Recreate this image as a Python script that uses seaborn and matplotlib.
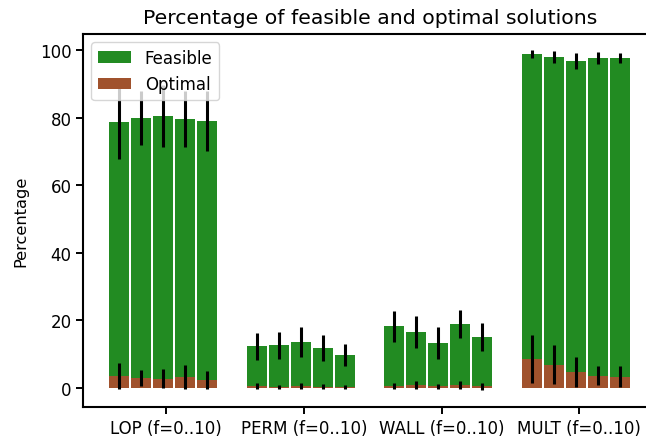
import numpy as np
import pandas as pd
import matplotlib
matplotlib.use('Agg')
import matplotlib.pyplot as plt
import seaborn as sns

# values (5 settings of f per problem)
problems = ['LOP', 'PERM', 'WALL', 'MULT']
tick_labels = [p + ' (f=0..10)' for p in problems]

feasible = [[78.7, 79.9, 80.5, 79.6, 79.0],
            [12.4, 12.7, 13.6, 11.8, 9.8],
            [18.3, 16.6, 13.3, 18.9, 15.1],
            [98.8, 97.9, 96.7, 97.6, 97.6]]
feasible_err = [[10.9, 7.9, 9.1, 8.2, 8.8],
                [4.0, 4.0, 4.4, 3.9, 3.3],
                [4.6, 4.8, 4.7, 4.2, 4.2],
                [1.2, 1.7, 2.4, 1.8, 1.6]]
optimal = [[3.5, 3.0, 2.8, 3.3, 2.4],
           [0.5, 0.4, 0.5, 0.4, 0.4],
           [0.5, 0.9, 0.5, 0.9, 0.5],
           [8.6, 6.9, 4.7, 3.6, 3.3]]
optimal_err = [[3.8, 2.3, 2.8, 3.6, 2.7],
               [0.9, 0.6, 0.9, 0.8, 0.6],
               [0.9, 1.2, 0.8, 1.2, 1.0],
               [7.1, 5.8, 4.5, 2.8, 3.1]]

sns.set_style('ticks', {'text.color': 'black', 'axes.labelcolor': 'black',
                        'xtick.color': 'black', 'ytick.color': 'black',
                        'axes.edgecolor': 'black'})
plt.rcParams['font.family'] = ['DejaVu Sans']

# bar positions: groups 1.25 apart, bars 0.2 apart
n = len(feasible[0])
rows = []
for g, p in enumerate(problems):
    for j in range(n):
        rows.append({'x': g * 1.25 + j * 0.2, 'problem': p,
                     'feasible': feasible[g][j], 'feasible_err': feasible_err[g][j],
                     'optimal': optimal[g][j], 'optimal_err': optimal_err[g][j]})
df = pd.DataFrame(rows)

fig = plt.figure(figsize=(6.46, 4.39), dpi=100)
ax = fig.add_axes([83 / 646, 31 / 439, 574 / 646, 373 / 439])

sns.barplot(data=df, x='x', y='feasible', native_scale=True, width=0.9,
            color='forestgreen', saturation=1, errorbar=None, label='Feasible',
            linewidth=0, ax=ax)
ax.errorbar(df['x'], df['feasible'], yerr=df['feasible_err'], fmt='none',
            ecolor='black', elinewidth=2.2, capsize=0)
sns.barplot(data=df, x='x', y='optimal', native_scale=True, width=0.9,
            color='sienna', saturation=1, errorbar=None, label='Optimal',
            linewidth=0, ax=ax)
ax.errorbar(df['x'], df['optimal'], yerr=df['optimal_err'], fmt='none',
            ecolor='black', elinewidth=2.2, capsize=0)

ax.set_xlim(-0.327, 4.886)
ax.set_ylim(-5.6, 104.7)
ax.set_xticks([g * 1.25 + 0.43 for g in range(len(problems))])
ax.set_xticklabels(tick_labels, fontsize=12)
ax.set_yticks([0, 20, 40, 60, 80, 100])
ax.tick_params(axis='y', labelsize=12)
ax.tick_params(length=4.8, width=1.4, color='black')
for s in ax.spines.values():
    s.set_linewidth(1.5)
ax.set_xlabel('')
ax.set_ylabel('Percentage', fontsize=11.7, labelpad=8)
ax.set_title('Percentage of feasible and optimal solutions', fontsize=14.7, pad=8)
ax.legend(loc='upper left', fontsize=12, framealpha=0.8, edgecolor='0.8',
          borderaxespad=0.5)

fig.savefig('out.png', dpi=100)
